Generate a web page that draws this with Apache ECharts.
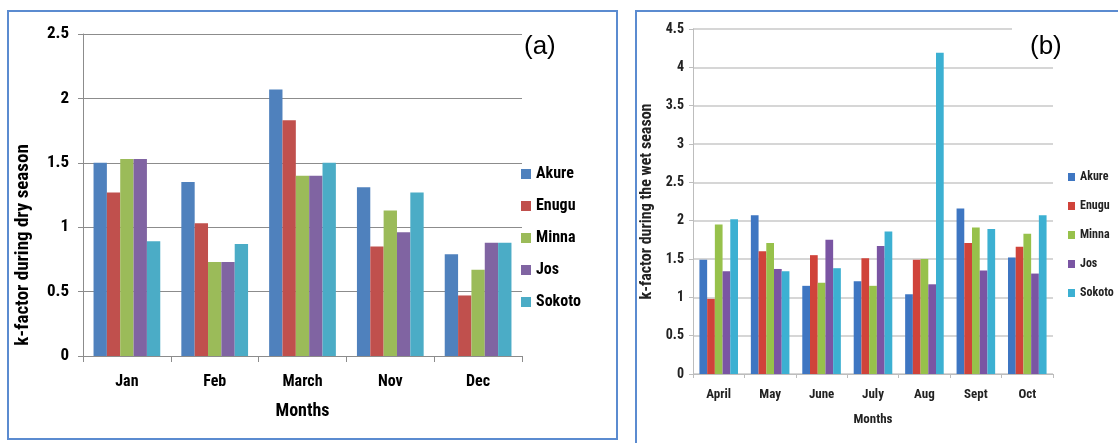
<!DOCTYPE html>
<html>
<head>
<meta charset="utf-8">
<script src="https://cdn.jsdelivr.net/npm/echarts@6/dist/echarts.min.js"></script>
<style>
  html, body { margin: 0; padding: 0; background: #fff; }
  #dry { position: absolute; left: 0; top: 0; width: 627px; height: 443px; }
  #wet { position: absolute; left: 627px; top: 0; width: 491px; height: 443px; }
</style>
</head>
<body>
<div id="dry"></div>
<div id="wet"></div>
<script>
// Station names (series)
const stations = ['Akure', 'Enugu', 'Minna', 'Jos', 'Sokoto'];

// (a) k-factor during the dry season
const dryMonths = ['Jan', 'Feb', 'March', 'Nov', 'Dec'];
const dryAkure  = [1.50, 1.35, 2.07, 1.31, 0.79];
const dryEnugu  = [1.27, 1.03, 1.83, 0.85, 0.47];
const dryMinna  = [1.53, 0.73, 1.40, 1.13, 0.67];
const dryJos    = [1.53, 0.73, 1.40, 0.96, 0.88];
const drySokoto = [0.89, 0.87, 1.50, 1.27, 0.88];
const dryAxis   = { min: 0, max: 2.5, interval: 0.5 };

// (b) k-factor during the wet season
const wetMonths = ['April', 'May', 'June', 'July', 'Aug', 'Sept', 'Oct'];
const wetAkure  = [1.49, 2.07, 1.15, 1.21, 1.04, 2.16, 1.52];
const wetEnugu  = [0.98, 1.60, 1.55, 1.51, 1.49, 1.71, 1.66];
const wetMinna  = [1.95, 1.71, 1.19, 1.15, 1.50, 1.91, 1.83];
const wetJos    = [1.34, 1.37, 1.75, 1.67, 1.17, 1.35, 1.31];
const wetSokoto = [2.02, 1.34, 1.38, 1.86, 4.19, 1.89, 2.07];
const wetAxis   = { min: 0, max: 4.5, interval: 0.5 };

const FONT = "'Liberation Sans Narrow', 'Roboto Condensed', 'DejaVu Sans Condensed', 'Liberation Sans', sans-serif";
const FRAME = '#5b8bd0';

function buildSeries(names, values, colors, gap) {
  return names.map((name, i) => ({
    name: name,
    type: 'bar',
    data: values[i],
    barGap: '0%',
    barCategoryGap: gap,
    itemStyle: { color: colors[i] },
    emphasis: { disabled: true }
  }));
}

// ---------- panel (a) ----------
const dryChart = echarts.init(document.getElementById('dry'), null, { renderer: 'canvas' });
dryChart.setOption({
  animation: false,
  textStyle: { fontFamily: FONT },
  grid: { left: 83, right: 105, top: 34, bottom: 87 },
  legend: {
    orient: 'vertical',
    left: 516, top: 161,
    itemWidth: 10, itemHeight: 10, itemGap: 16,
    icon: 'rect',
    textStyle: { fontFamily: FONT, fontSize: 16, fontWeight: 'bold', color: '#000' },
    data: stations
  },
  xAxis: {
    type: 'category',
    data: dryMonths,
    axisLine: { lineStyle: { color: '#8c8c8c', width: 1 } },
    axisTick: { show: true, length: 6, lineStyle: { color: '#8c8c8c' } },
    axisLabel: { margin: 18, fontFamily: FONT, fontSize: 16, fontWeight: 'bold', color: '#000' },
    name: 'Months',
    nameLocation: 'middle',
    nameGap: 46,
    nameTextStyle: { fontFamily: FONT, fontSize: 18, fontWeight: 'bold', color: '#000' }
  },
  yAxis: {
    type: 'value',
    min: dryAxis.min, max: dryAxis.max, interval: dryAxis.interval,
    axisLine: { show: true, lineStyle: { color: '#8c8c8c', width: 1 } },
    axisTick: { show: true, length: 5, lineStyle: { color: '#8c8c8c' } },
    splitLine: { lineStyle: { color: '#8c8c8c', width: 1 } },
    axisLabel: { margin: 14, fontFamily: FONT, fontSize: 17, fontWeight: 'bold', color: '#000' },
    name: 'k-factor during dry season',
    nameLocation: 'middle',
    nameRotate: 90,
    nameGap: 50,
    nameTextStyle: { fontFamily: FONT, fontSize: 19, fontWeight: 'bold', color: '#000', padding: [0, 100, 0, 0] }
  },
  series: buildSeries(stations, [dryAkure, dryEnugu, dryMinna, dryJos, drySokoto],
    ['#4f81bd', '#c0504d', '#9bbb59', '#8064a2', '#4bacc6'], '24%'),
  graphic: [
    { type: 'rect', z: 100, shape: { x: 8, y: 11, width: 609, height: 428 },
      style: { fill: 'none', stroke: FRAME, lineWidth: 2 } },
    { type: 'text', z: 100, left: 524, top: 34,
      style: { text: '(a)', fontFamily: "'Liberation Sans', sans-serif", fontSize: 26, fill: '#000' } }
  ]
});

// ---------- panel (b) ----------
const wetChart = echarts.init(document.getElementById('wet'), null, { renderer: 'canvas' });
wetChart.setOption({
  animation: false,
  textStyle: { fontFamily: FONT },
  grid: { left: 66, right: 65, top: 29, bottom: 69 },
  legend: {
    orient: 'vertical',
    left: 436, top: 166,
    itemWidth: 7, itemHeight: 8, itemGap: 17,
    icon: 'rect',
    textStyle: { fontFamily: FONT, fontSize: 12, fontWeight: 'bold', color: '#222' },
    data: stations
  },
  xAxis: {
    type: 'category',
    data: wetMonths,
    axisLine: { lineStyle: { color: '#bdbdbd', width: 1 } },
    axisTick: { show: true, length: 4, lineStyle: { color: '#bdbdbd' } },
    axisLabel: { margin: 14, fontFamily: FONT, fontSize: 13, fontWeight: 'bold', color: '#222' },
    name: 'Months',
    nameLocation: 'middle',
    nameGap: 39,
    nameTextStyle: { fontFamily: FONT, fontSize: 13, fontWeight: 'bold', color: '#222' }
  },
  yAxis: {
    type: 'value',
    min: wetAxis.min, max: wetAxis.max, interval: wetAxis.interval,
    axisLine: { show: true, lineStyle: { color: '#bdbdbd', width: 1 } },
    axisTick: { show: true, length: 4, lineStyle: { color: '#bdbdbd' } },
    splitLine: { lineStyle: { color: '#c8c8c8', width: 1.5 } },
    axisLabel: { margin: 9, fontFamily: FONT, fontSize: 14, fontWeight: 'bold', color: '#222' },
    name: 'k-factor during the wet season',
    nameLocation: 'middle',
    nameRotate: 90,
    nameGap: 28,
    nameTextStyle: { fontFamily: FONT, fontSize: 16, fontWeight: 'bold', color: '#222' }
  },
  series: buildSeries(stations, [wetAkure, wetEnugu, wetMinna, wetJos, wetSokoto],
    ['#3e76c2', '#d0433a', '#97c14b', '#7a55a3', '#3cb0d2'], '25%'),
  graphic: [
    { type: 'rect', z: 100, shape: { x: 9, y: 11, width: 600, height: 600 },
      style: { fill: 'none', stroke: FRAME, lineWidth: 2 } },
    { type: 'rect', z: 90, shape: { x: 385, y: 24, width: 50, height: 40 },
      style: { fill: '#fff' } },
    { type: 'text', z: 100, left: 403, top: 34,
      style: { text: '(b)', fontFamily: "'Liberation Sans', sans-serif", fontSize: 26, fill: '#000' } }
  ]
});
</script>
</body>
</html>
